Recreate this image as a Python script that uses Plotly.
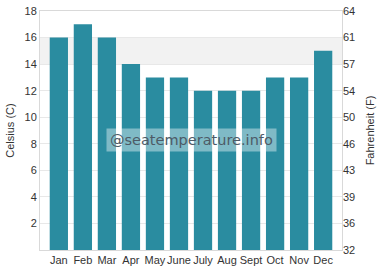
import plotly.graph_objects as go

months = ["Jan", "Feb", "Mar", "Apr", "May", "June", "July", "Aug", "Sept", "Oct", "Nov", "Dec"]
celsius = [16, 17, 16, 14, 13, 13, 12, 12, 12, 13, 13, 15]
c_ticks = [2, 4, 6, 8, 10, 12, 14, 16, 18]
f_ticks = [0, 2, 4, 6, 8, 10, 12, 14, 16, 18]
f_labels = [str(round(c * 1.8 + 32)) for c in f_ticks]

fig = go.Figure()
fig.add_trace(go.Bar(x=months, y=celsius, marker=dict(color="#2a8ca0", line=dict(width=0)),
                     hoverinfo="skip"))
fig.add_trace(go.Scatter(x=months, y=celsius, yaxis="y2", mode="markers",
                         marker=dict(opacity=0), hoverinfo="skip", showlegend=False))

fig.add_shape(type="rect", xref="paper", yref="y", x0=0, x1=1, y0=14, y1=16,
              fillcolor="#f2f2f2", line=dict(width=0), layer="below")

font_main = dict(family="Liberation Sans, Arial, sans-serif", size=11, color="#333333")

fig.update_layout(
    width=382, height=280,
    margin=dict(l=40, r=40, t=11, b=30, autoexpand=False),
    paper_bgcolor="white", plot_bgcolor="white",
    showlegend=False, bargap=0.24,
    font=font_main,
    xaxis=dict(showline=True, linecolor="#d9d9d9", mirror=True, ticks="", showgrid=False,
               tickangle=0, automargin=False, tickfont=font_main),
    yaxis=dict(range=[0, 18], tickvals=c_ticks, ticktext=[str(v) for v in c_ticks],
               showgrid=True, gridcolor="#e8e8e8", showline=True, linecolor="#d9d9d9",
               mirror=True, zeroline=False, ticks="", tickfont=font_main, automargin=False,
               title=dict(text="Celsius (C)", font=font_main, standoff=7)),
    yaxis2=dict(overlaying="y", side="right", range=[0, 18], tickvals=f_ticks,
                ticktext=f_labels, showgrid=False, zeroline=False, ticks="",
                tickfont=font_main, automargin=False,
                title=dict(text="Fahrenheit (F)", font=font_main, standoff=12)),
)

fig.add_annotation(xref="paper", yref="paper", x=0.5, y=0.46, text="@seatemperature.info",
                   showarrow=False, font=dict(family="DejaVu Sans", size=14.5, color="#4d5a66"),
                   bgcolor="rgba(255,255,255,0.4)", borderpad=3)

fig.write_html("out.html")
